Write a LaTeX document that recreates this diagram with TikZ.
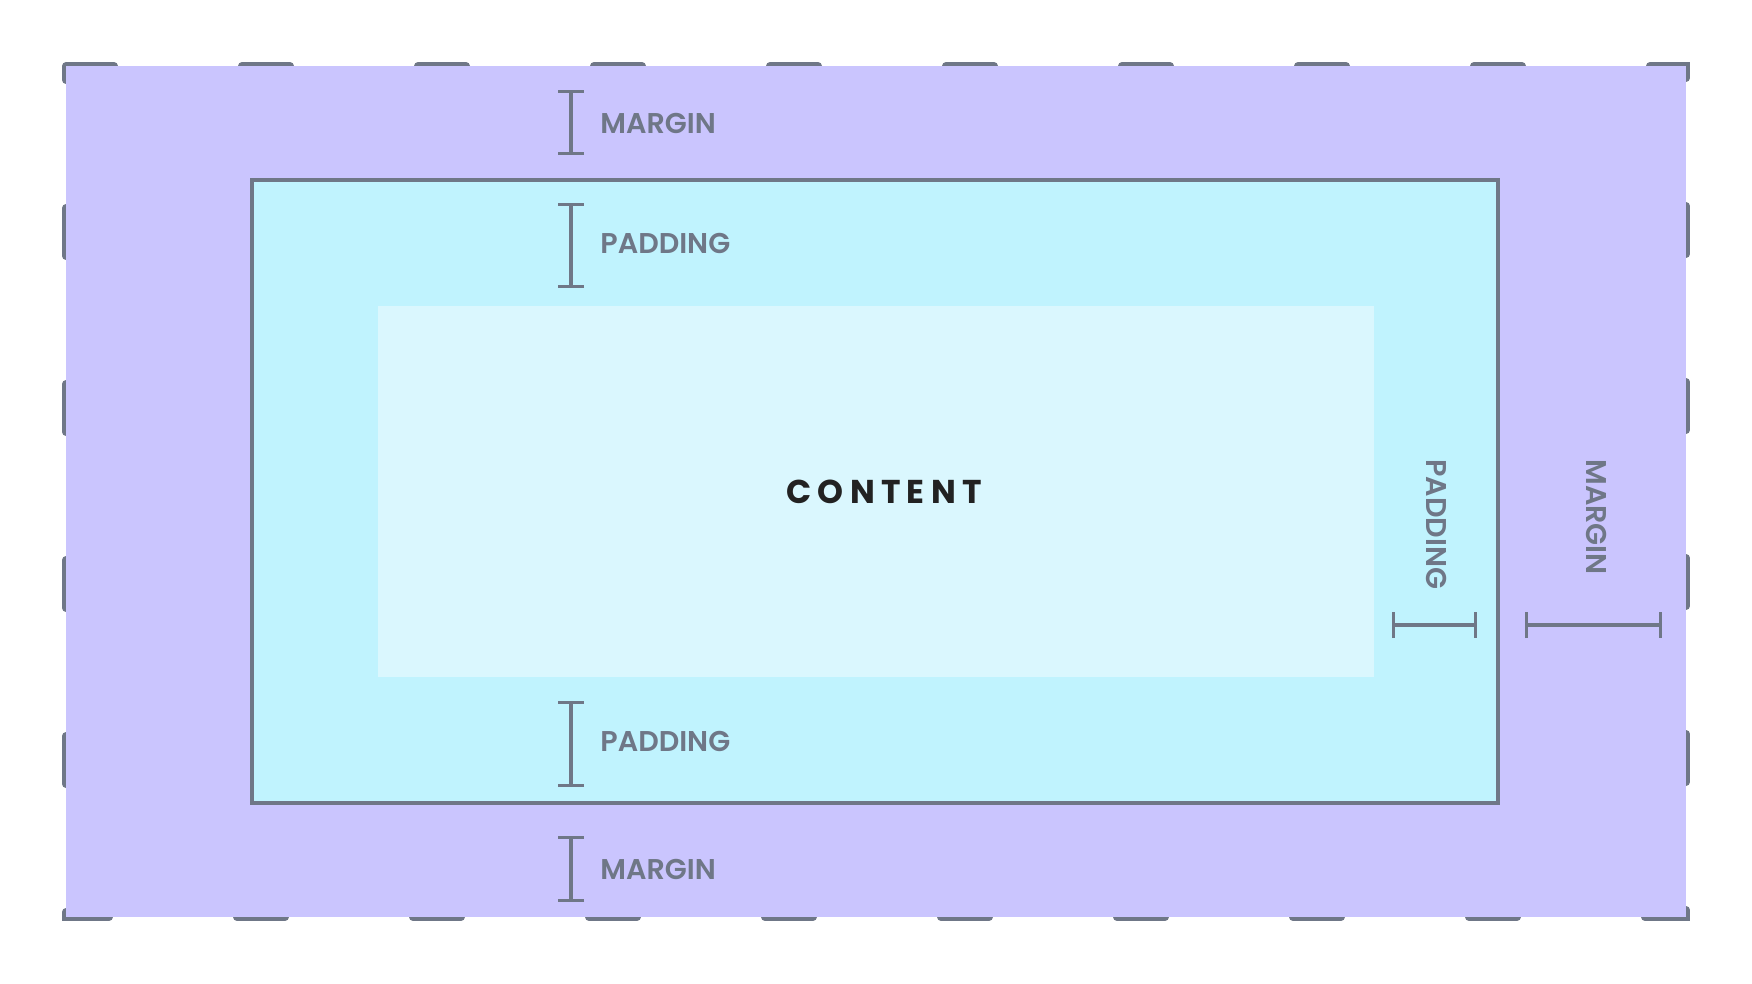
\documentclass[tikz,border=0pt]{standalone}
\usepackage{fontspec}
\setmainfont{Poppins}
\newfontfamily\labelfont{Poppins SemiBold}
\newfontfamily\contentfont[LetterSpace=19]{Poppins}
\usepackage{tikz}
\usetikzlibrary{arrows.meta}
\definecolor{marginfill}{HTML}{CAC5FE}
\definecolor{paddingfill}{HTML}{C0F3FE}
\definecolor{contentfill}{HTML}{DAF7FE}
\definecolor{slate}{HTML}{6F7787}
\definecolor{ink}{HTML}{222222}
\tikzset{
    dimline/.style={draw=slate, line width=1.7pt, {Bar[width=13pt]}-{Bar[width=13pt]}},
    dimlabel/.style={font=\labelfont\fontsize{14.3}{17}\selectfont, text=slate, inner sep=0pt, anchor=west}
}

\begin{document}
\begin{tikzpicture}[x=0.5pt, y=-0.5pt]
\useasboundingbox (0,0) rectangle (1752,984);
    % margin box
    \coordinate (M1) at (66,66);
    \coordinate (M2) at (1686,917);
    \draw[slate, line width=4pt, dash pattern=on 24pt off 64pt, line cap=round]
        (M1) -- (M2 |- M1) -- (M2) -- (M1 |- M2) -- cycle;
    \fill[marginfill] (M1) rectangle (M2);
    % padding box
    \coordinate (P1) at (252,180);
    \coordinate (P2) at (1498,803);
    \filldraw[fill=paddingfill, draw=slate, line width=2pt] (P1) rectangle (P2);
    % content box
    \coordinate (C1) at (378,306);
    \coordinate (C2) at (1374,677);
    \fill[contentfill] (C1) rectangle (C2);
    \node[font=\contentfont\bfseries\fontsize{16.5}{20}\selectfont, text=ink] (content) at (884,492) {CONTENT};
    % top and bottom
    \coordinate (mt1) at (571,90);
    \coordinate (mt2) at (571,155);
    \draw[dimline] (mt1) -- (mt2);
    \node[dimlabel] (mtlabel) at (600,123) {MARGIN};
    \coordinate (pt1) at (571,203);
    \coordinate (pt2) at (571,288);
    \draw[dimline] (pt1) -- (pt2);
    \node[dimlabel] (ptlabel) at (600,243) {PADDING};
    \coordinate (pb1) at (571,701);
    \coordinate (pb2) at (571,787);
    \draw[dimline] (pb1) -- (pb2);
    \node[dimlabel] (pblabel) at (600,741) {PADDING};
    \coordinate (mb1) at (571,836);
    \coordinate (mb2) at (571,902);
    \draw[dimline] (mb1) -- (mb2);
    \node[dimlabel] (mblabel) at (600,869) {MARGIN};
    % right side
    \coordinate (pr1) at (1392,625);
    \coordinate (pr2) at (1477,625);
    \draw[dimline] (pr1) -- (pr2);
    \node[dimlabel, rotate=-90] (prlabel) at (1437,459) {PADDING};
    \coordinate (mr1) at (1525,625);
    \coordinate (mr2) at (1662,625);
    \draw[dimline] (mr1) -- (mr2);
    \node[dimlabel, rotate=-90] (mrlabel) at (1597,459) {MARGIN};
\end{tikzpicture}
\end{document}
